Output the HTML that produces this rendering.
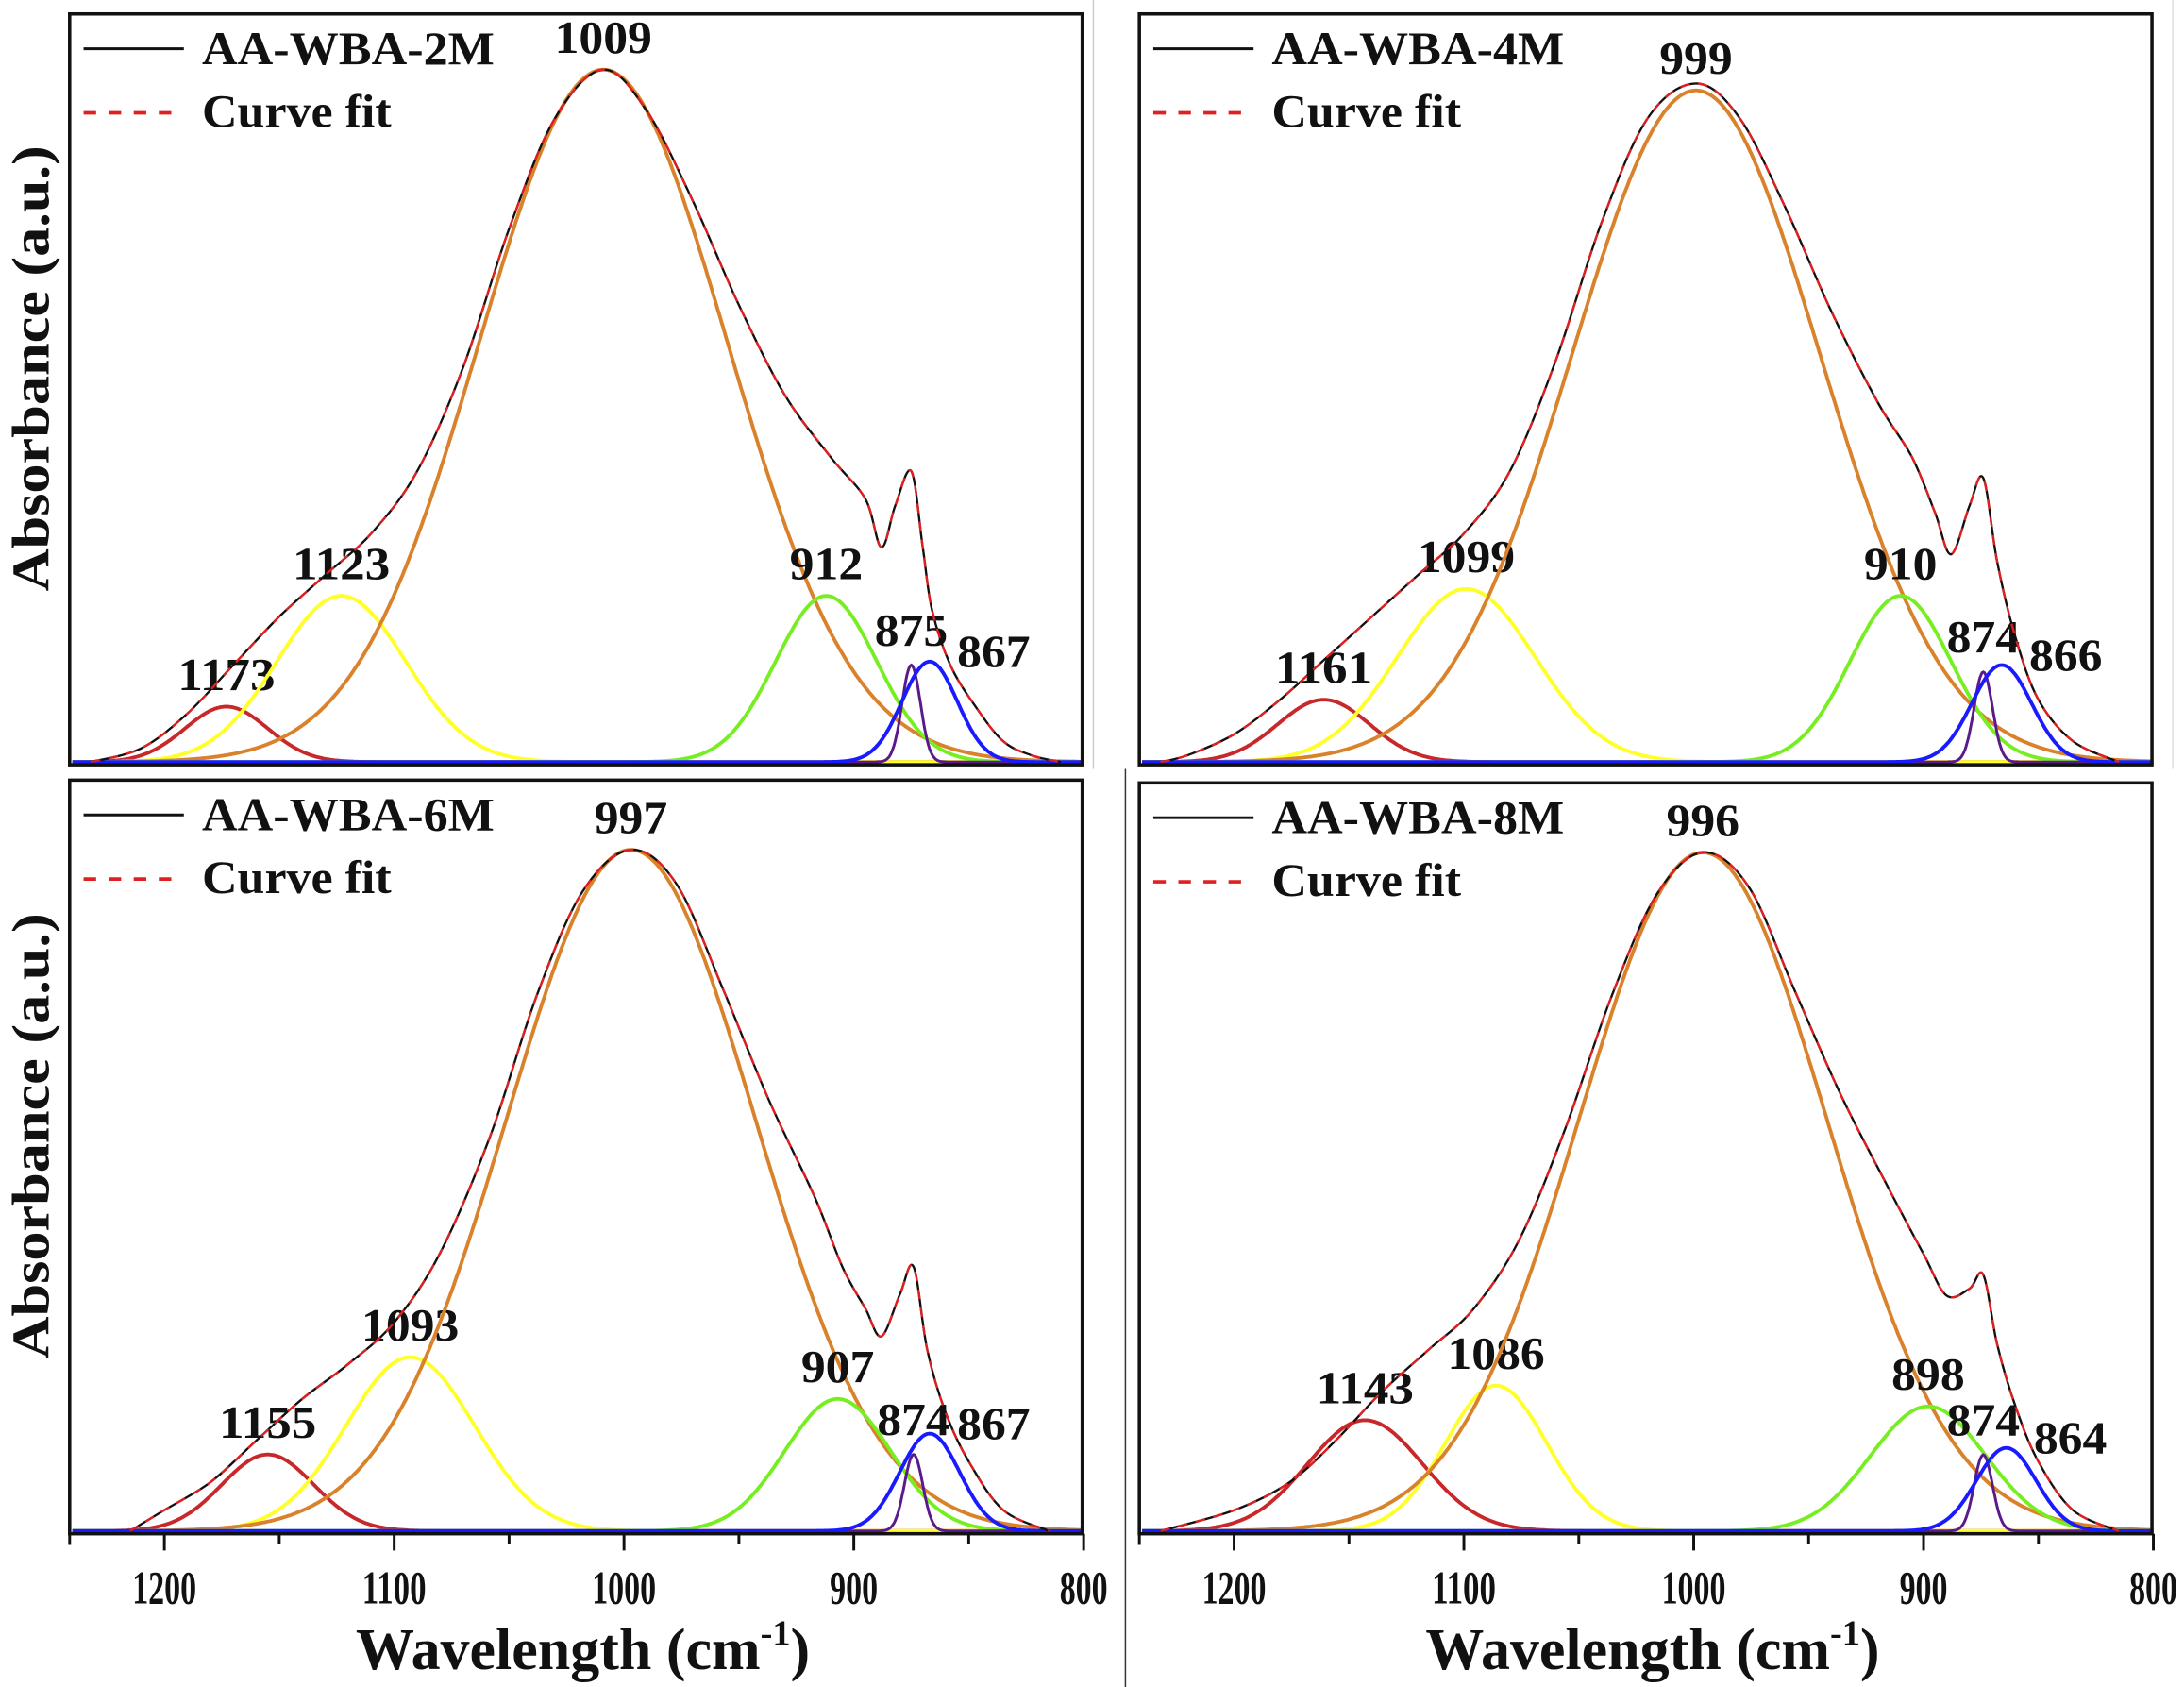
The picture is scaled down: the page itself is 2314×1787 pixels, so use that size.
<!DOCTYPE html>
<html><head><meta charset="utf-8"><style>
html,body{margin:0;padding:0;background:#fff;}
svg{display:block;}
text{font-family:"Liberation Serif",serif;font-weight:bold;fill:#111;}
</style></head><body>
<svg id="fig" width="2314" height="1787" viewBox="0 0 1568 1211" preserveAspectRatio="none" xmlns="http://www.w3.org/2000/svg">
<rect x="0" y="0" width="1568" height="1211" fill="#fff"/>
<line x1="785" y1="0" x2="785" y2="552" stroke="#ccc" stroke-width="1"/>
<line x1="1560" y1="0" x2="1560" y2="552" stroke="#ddd" stroke-width="1"/>
<line x1="808" y1="552" x2="808" y2="1211" stroke="#333" stroke-width="1"/>
</svg>
<script>
// ---- data ----
const panelNames = ["AA-WBA-2M","AA-WBA-4M","AA-WBA-6M","AA-WBA-8M"];
const peakCenters = [
  [1173,1123,1009,912,875,867],
  [1161,1099,999,910,874,866],
  [1155,1093,997,907,874,867],
  [1143,1086,996,898,874,864]
];
const peakHeights = [
  [0.08,0.24,1.00,0.24,0.14,0.145],
  [0.09,0.25,0.97,0.24,0.13,0.14],
  [0.11,0.25,0.98,0.19,0.11,0.14],
  [0.16,0.21,0.98,0.18,0.11,0.12]
];
const peakSigmas = [
  [18,28,54,22,4,12],
  [20,30,54,22,4,13],
  [20,28,54,23,4,13],
  [25,22,54,25,4,13]
];
const peakColors = ["#c8282a","#ffff2a","#d9822b","#77ee22","#5a1a8c","#1a1aff"];
const specW1 = [1232,1210,1190,1170,1150,1130,1110,1090,1070,1050,1030,1009,990,970,950,930,910,895,888,882,875,870,866,858,847,835,823,810];
const specA1 = [0,0.02,0.07,0.14,0.21,0.27,0.33,0.42,0.57,0.77,0.93,1.0,0.94,0.81,0.66,0.53,0.44,0.38,0.31,0.37,0.42,0.31,0.22,0.14,0.08,0.03,0.01,0];
const specW2 = [1232,1220,1200,1180,1160,1140,1120,1100,1080,1060,1040,1020,999,980,960,940,920,905,895,888,880,874,868,860,850,835,815];
const specA2 = [0,0.01,0.04,0.09,0.15,0.21,0.27,0.33,0.42,0.58,0.78,0.93,0.98,0.93,0.80,0.65,0.52,0.44,0.36,0.30,0.37,0.41,0.29,0.18,0.09,0.03,0];
const specW3 = [1215,1200,1180,1160,1140,1120,1100,1080,1058,1038,1018,997,977,957,937,917,905,895,888,880,874,868,860,850,835,815];
const specA3 = [0,0.03,0.07,0.13,0.19,0.24,0.30,0.40,0.57,0.77,0.92,0.98,0.93,0.78,0.62,0.48,0.38,0.32,0.28,0.34,0.38,0.26,0.17,0.10,0.03,0];
const specW4 = [1232,1200,1176,1156,1136,1116,1096,1076,1056,1036,1016,996,976,956,936,916,900,890,880,874,868,860,850,835,815];
const specA4 = [0,0.03,0.07,0.13,0.20,0.26,0.32,0.42,0.58,0.77,0.92,0.98,0.93,0.78,0.63,0.50,0.40,0.34,0.35,0.37,0.27,0.18,0.10,0.03,0];
const specW = [specW1,specW2,specW3,specW4];
const specA = [specA1,specA2,specA3,specA4];
const tickValues = [1200,1100,1000,900,800];
const minorTicks = [1150,1050,950,850];
</script>
<script>
const NS="http://www.w3.org/2000/svg";
const svg=document.getElementById('fig');
const panels=[{x0:50,x1:777,y0:10,y1:549,bottom:false},{x0:818,x1:1545,y0:10,y1:549,bottom:false},
{x0:50,x1:777,y0:560,y1:1101,bottom:true},{x0:818,x1:1545,y0:562,y1:1101,bottom:true}];
const labOff=[[0,0],[0,0],[0,0],[0,0],[0,-2],[46,16]];
function el(tag,attrs,parent){const e=document.createElementNS(NS,tag);for(const k in attrs)e.setAttribute(k,attrs[k]);(parent||svg).appendChild(e);return e;}
function smoothPath(pts){let d=`M${pts[0][0].toFixed(1)},${pts[0][1].toFixed(1)}`;
 for(let i=0;i<pts.length-1;i++){const p0=pts[Math.max(0,i-1)],p1=pts[i],p2=pts[i+1],p3=pts[Math.min(pts.length-1,i+2)];
 const c1=[p1[0]+(p2[0]-p0[0])/6,p1[1]+(p2[1]-p0[1])/6],c2=[p2[0]-(p3[0]-p1[0])/6,p2[1]-(p3[1]-p1[1])/6];
 d+=`C${c1[0].toFixed(1)},${c1[1].toFixed(1)} ${c2[0].toFixed(1)},${c2[1].toFixed(1)} ${p2[0].toFixed(1)},${p2[1].toFixed(1)}`;}return d;}
panels.forEach((P,pi)=>{
 const g=el('g',{});
 
 
 const base=P.y1-2;
 const xs=w=>P.x0+68+(1200-w)*1.65;
 const ys=a=>base-a*(P.y1-P.y0-42);
 peakCenters[pi].forEach((c,k)=>{
  const h=peakHeights[pi][k],s=peakSigmas[pi][k];let d='';
  for(let w=1240;w>=800;w-=0.5){const a=h*Math.exp(-((w-c)**2)/(2*s*s));d+=(d?'L':'M')+xs(w).toFixed(1)+','+ys(a).toFixed(1);}
  const p=el('path',{d:d,fill:'none',stroke:peakColors[k],'stroke-width':k==4?2:2.6},g);
  
  
  const txt=String(c);
  const t=el('text',{x:xs(c)+labOff[k][0],y:ys(h)-12+labOff[k][1],'text-anchor':'middle','font-size':33,textLength:txt.length*17.5,lengthAdjust:'spacingAndGlyphs'},g);
  t.textContent=txt;
  
  
 });
 const pts=specW[pi].map((w,i)=>[xs(w),ys(specA[pi][i])]);
 const sp=el('path',{d:smoothPath(pts),fill:'none',stroke:'#111','stroke-width':1.6},g);
 
 
 const fp=el('path',{d:smoothPath(pts),fill:'none',stroke:'#e02020','stroke-width':1.6,'stroke-dasharray':'7,6'},g);
 
 
 const fr=el('rect',{x:P.x0,y:P.y0,width:P.x1-P.x0,height:P.y1-P.y0,fill:'none',stroke:'#111','stroke-width':2.4},g);
 
 
 el('line',{x1:P.x0+10,y1:P.y0+25,x2:P.x0+82,y2:P.y0+25,stroke:'#111','stroke-width':2},g);
 el('line',{x1:P.x0+10,y1:P.y0+71,x2:P.x0+82,y2:P.y0+71,stroke:'#e02020','stroke-width':2.5,'stroke-dasharray':'9,9'},g);
 const l1=el('text',{x:P.x0+95,y:P.y0+36,'font-size':34,textLength:210,lengthAdjust:'spacingAndGlyphs'},g);l1.textContent=panelNames[pi];
 
 
 const l2=el('text',{x:P.x0+95,y:P.y0+81,'font-size':34,textLength:136,lengthAdjust:'spacingAndGlyphs'},g);l2.textContent='Curve fit';
 
 
 if(P.bottom){
  tickValues.forEach(v=>{const x=xs(v);el('line',{x1:x,y1:P.y1,x2:x,y2:P.y1+12,stroke:'#111','stroke-width':2},g);
   const t=el('text',{x:x,y:P.y1+50,'text-anchor':'middle','font-size':34,textLength:String(v).length*11.5,lengthAdjust:'spacingAndGlyphs'},g);t.textContent=v;
   
   });
  minorTicks.forEach(v=>{const x=xs(v);el('line',{x1:x,y1:P.y1,x2:x,y2:P.y1+7,stroke:'#111','stroke-width':2},g);});
  el('line',{x1:P.x0,y1:P.y1,x2:P.x0,y2:P.y1+8,stroke:'#111','stroke-width':2},g);
  const xt=el('text',{x:(P.x0+P.x1)/2+5,y:P.y1+97,'text-anchor':'middle','font-size':42},g);
  xt.innerHTML='Wavelength (cm<tspan dy="-17" font-size="26">-1</tspan><tspan dy="17">)</tspan>';
  
  
 }
 if(pi%2===0){
  const cy=(P.y0+P.y1)/2-15;
  const yt=el('text',{x:0,y:0,'text-anchor':'middle','font-size':38,textLength:320,lengthAdjust:'spacingAndGlyphs',transform:`translate(35,${cy}) rotate(-90)`},g);
  yt.textContent='Absorbance (a.u.)';
  
  
 }
});
</script>
</body></html>
